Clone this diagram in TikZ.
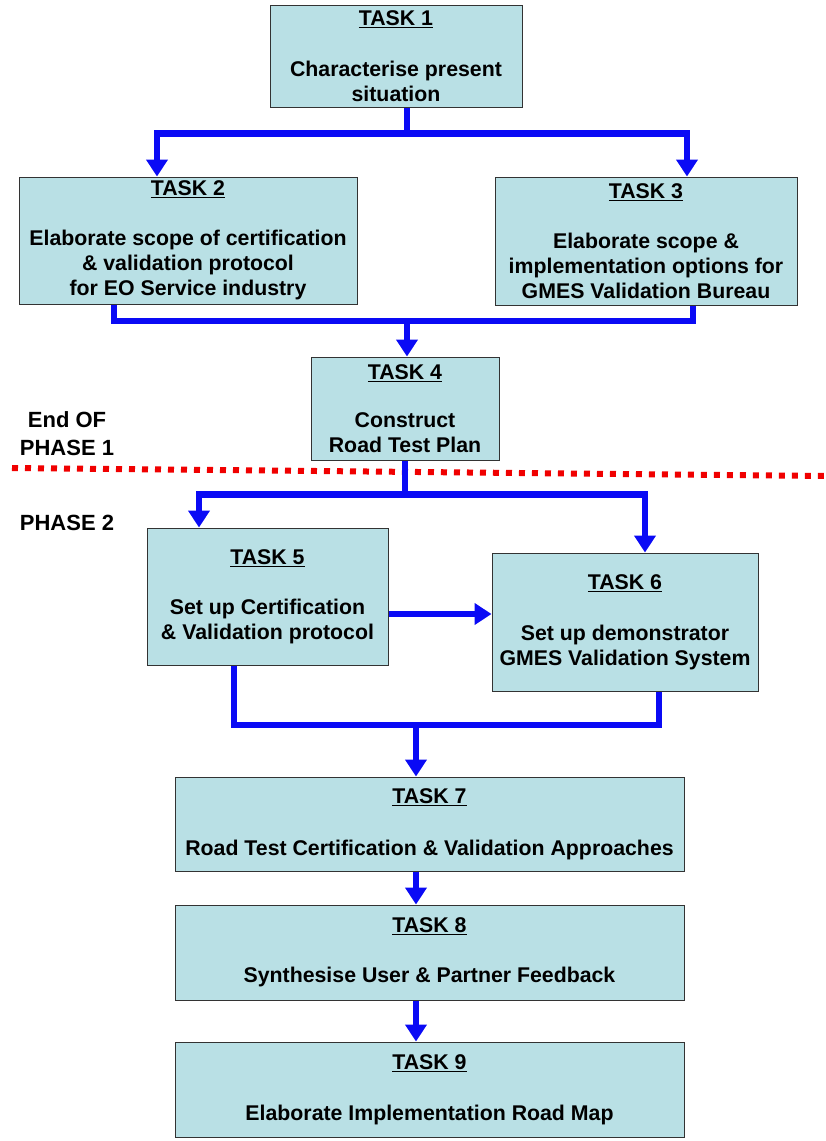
\documentclass[tikz,border=0pt]{standalone}
\usepackage{fontspec}
\setmainfont{Liberation Sans}
\usepackage{tikz}
\usetikzlibrary{arrows.meta,positioning}
\definecolor{taskfill}{RGB}{185,224,229}
\definecolor{flowblue}{RGB}{10,10,245}
\definecolor{phasered}{RGB}{240,0,0}

\begin{document}
\begin{tikzpicture}[x=1pt,y=-1pt,
		task/.style={draw=black!80, line width=1pt, fill=taskfill, inner sep=0pt, align=center, font=\bfseries\fontsize{21.3}{25}\selectfont},
		link/.style={draw=flowblue, line width=6.5pt},
		flow/.style={link, -{Triangle[width=21pt,length=17pt]}},
		phase/.style={align=center, font=\bfseries\fontsize{22}{28}\selectfont}]
		\useasboundingbox (0,0) rectangle (825,1141);
		%\draw [help lines] (0,0) grid (825,1141);
		%Phase 1
		\node [task, minimum width=252pt, minimum height=102pt] (t1) at (396,56) {\underline{TASK 1}\\[26pt]Characterise present\\situation};
		\node [task, minimum width=338pt, minimum height=127pt] (t2) at (188,240.5) {\underline{TASK 2}\\[25pt]Elaborate scope of certification\\\& validation protocol\\for EO Service industry};
		\node [task, minimum width=302pt, minimum height=128pt] (t3) at (646,241) {\underline{TASK 3}\\[25pt]Elaborate scope \&\\implementation options for\\GMES Validation Bureau};
		\node [task, minimum width=188pt, minimum height=103pt] (t4) at (405,408.5) {\underline{TASK 4}\\[23pt]Construct\\Road Test Plan};
		%Phase 2
		\node [task, minimum width=241pt, minimum height=137pt] (t5) at (267.5,596.5) {\underline{TASK 5}\\[25pt]Set up Certification\\\& Validation protocol};
		\node [task, minimum width=266pt, minimum height=138pt] (t6) at (625,622) {\underline{TASK 6}\\[26pt]Set up demonstrator\\GMES Validation System};
		\node [task, minimum width=509pt, minimum height=94pt] (t7) at (429.5,824) {\underline{TASK 7}\\[27pt]Road Test Certification \& Validation Approaches};
		\node [task, minimum width=509pt, minimum height=95pt] (t8) at (429.5,952.5) {\underline{TASK 8}\\[25pt]Synthesise User \& Partner Feedback};
		\node [task, minimum width=509pt, minimum height=95pt] (t9) at (429.5,1089.5) {\underline{TASK 9}\\[26pt]Elaborate Implementation Road Map};
		%Labels
		\node [phase] (endof) at (67,434) {End OF\\PHASE 1};
		\node [phase] (phase2) at (67,523) {PHASE 2};
		\draw [phasered, line width=6pt, dash pattern=on 6pt off 7pt] (12,468) -- (825,476);
		%1 -> 2,3
		\draw [flow] ([xshift=11pt]t1.south) -- ++(0,26) -| ([xshift=-31pt]t2.north);
		\draw [flow] ([xshift=11pt]t1.south) -- ++(0,26) -| ([xshift=41pt]t3.north);
		%2,3 -> 4
		\coordinate (m1) at (407,321);
		\draw [link] ([xshift=-74pt]t2.south) |- (m1);
		\draw [link] ([xshift=47pt]t3.south) |- (m1);
		\draw [flow] (m1) -- (m1 |- t4.north);
		%4 -> 5,6
		\draw [flow] (t4.south) -- ++(0,34) -| ([xshift=-68.5pt]t5.north);
		\draw [flow] (t4.south) -- ++(0,34) -| ([xshift=20pt]t6.north);
		%5 -> 6
		\draw [flow] ([yshift=-17.5pt]t5.east) -- ([yshift=-17.5pt]t5.east -| t6.west);
		%5,6 -> 7
		\coordinate (m2) at (416,725);
		\draw [link] ([xshift=-33.5pt]t5.south) |- (m2);
		\draw [link] ([xshift=34pt]t6.south) |- (m2);
		\draw [flow] (m2) -- (m2 |- t7.north);
		%7 -> 8 -> 9
		\draw [flow] ([xshift=-13.5pt]t7.south) -- ([xshift=-13.5pt]t8.north);
		\draw [flow] ([xshift=-13.5pt]t8.south) -- ([xshift=-13.5pt]t9.north);
\end{tikzpicture}
\end{document}
